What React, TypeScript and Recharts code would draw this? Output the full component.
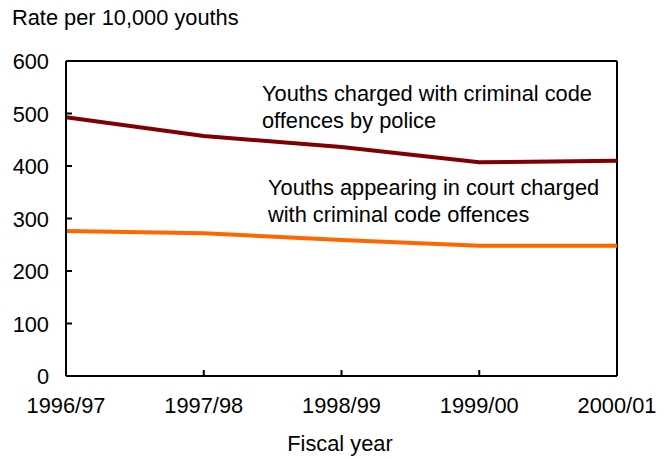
import { LineChart, Line, XAxis, YAxis, ReferenceLine } from "recharts";

// fiscal years on the x axis
const years = ["1996/97", "1997/98", "1998/99", "1999/00", "2000/01"];
// rate per 10,000 youths
const chargedByPolice = [493, 457, 436, 407, 410];
const appearingInCourt = [276, 272, 259, 248, 248];
const yTicks = [0, 100, 200, 300, 400, 500, 600];

const data = years.map((year, i) => ({
  year,
  police: chargedByPolice[i],
  court: appearingInCourt[i],
}));

const FONT = "'Liberation Sans', Arial, sans-serif";
const FS = 21.8;

const YTick = (props: any) => {
  const { x, y, payload } = props;
  // tickSize 0, tickMargin 17 -> axis sits at x + 17
  const ax = x + 17;
  return (
    <g>
      <line x1={ax} x2={ax + 6} y1={y} y2={y} stroke="#000" strokeWidth={2} />
      <text x={x} y={y + 8} textAnchor="end" fontFamily={FONT} fontSize={FS} fill="#000">
        {payload.value}
      </text>
    </g>
  );
};

const XTick = (props: any) => {
  const { x, y, payload } = props;
  // tickSize 0, tickMargin 0 -> axis sits at y
  return (
    <g>
      <line x1={x} x2={x} y1={y} y2={y - 6} stroke="#000" strokeWidth={2} />
      <text x={x} y={y + 37} textAnchor="middle" fontFamily={FONT} fontSize={FS} fill="#000">
        {payload.value}
      </text>
    </g>
  );
};

export default function App() {
  return (
    <div style={{ position: "absolute", left: 0, top: 0, width: 665, height: 458, background: "#fff" }}>
      <LineChart
        width={665}
        height={458}
        data={data}
        margin={{ top: 61, right: 48, left: 0, bottom: 0 }}
      >
        <XAxis
          dataKey="year"
          axisLine={{ stroke: "#000", strokeWidth: 2 }}
          tickLine={false}
          tickSize={0}
          tickMargin={0}
          tick={<XTick />}
          height={82}
          interval={0}
        />
        <YAxis
          domain={[0, 600]}
          ticks={yTicks}
          axisLine={{ stroke: "#000", strokeWidth: 2 }}
          tickLine={false}
          tickSize={0}
          tickMargin={17}
          tick={<YTick />}
          width={66}
          interval={0}
        />
        <ReferenceLine y={600} stroke="#000" strokeWidth={2} />
        <ReferenceLine x="2000/01" stroke="#000" strokeWidth={2} />
        <Line
          dataKey="police"
          stroke="#800000"
          strokeWidth={4}
          dot={false}
          isAnimationActive={false}
        />
        <Line
          dataKey="court"
          stroke="#FF6600"
          strokeWidth={4}
          dot={false}
          isAnimationActive={false}
        />
      </LineChart>
      <svg
        width={665}
        height={458}
        style={{ position: "absolute", left: 0, top: 0, pointerEvents: "none" }}
        fontFamily={FONT}
        fontSize={FS}
        fill="#000"
      >
        <text x={12} y={25}>Rate per 10,000 youths</text>
        <text x={340} y={451} textAnchor="middle">Fiscal year</text>
        <text x={262} y={101}>Youths charged with criminal code</text>
        <text x={262} y={128}>offences by police</text>
        <text x={268} y={195}>Youths appearing in court charged</text>
        <text x={268} y={222}>with criminal code offences</text>
      </svg>
    </div>
  );
}
